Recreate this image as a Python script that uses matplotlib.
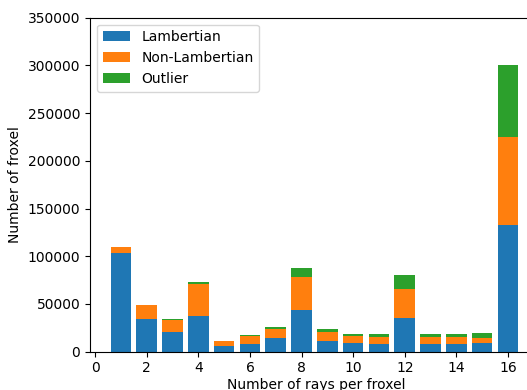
import matplotlib
matplotlib.use("Agg")
import matplotlib.pyplot as plt
import numpy as np

rays = [1, 2, 3, 4, 5, 6, 7, 8, 9, 10, 11, 12, 13, 14, 15, 16]
lambertian = [103000, 33900, 20200, 37700, 5600, 8400, 14000, 44000, 10800, 9000, 8300, 35300, 8000, 8000, 8700, 132400]
non_lambertian = [7000, 14600, 13300, 33300, 5600, 7600, 9800, 33900, 9400, 7000, 6700, 30000, 7700, 7000, 5600, 93000]
outlier = [0, 0, 1100, 2000, 300, 1800, 2400, 9800, 3600, 3000, 3200, 14700, 2800, 3100, 5300, 74700]

lam = np.array(lambertian)
non = np.array(non_lambertian)
out = np.array(outlier)

x_right = 17.3
fig = plt.figure(figsize=(5.27, 3.90), dpi=100)
ax = fig.add_axes([90/527, 1-351.7/390, (95.7 + x_right*25.77 - 90)/527, (351.7-17.7)/390])
ax.bar(rays, lam, width=0.8, color="#1f77b4", label="Lambertian")
ax.bar(rays, non, width=0.8, bottom=lam, color="#ff7f0e", label="Non-Lambertian")
ax.bar(rays, out, width=0.8, bottom=lam+non, color="#2ca02c", label="Outlier")
ax.set_xlim(-0.2, x_right)
ax.set_ylim(0, 350000)
ax.set_xticks([0, 2, 4, 6, 8, 10, 12, 14, 16])
ax.set_xlabel("Number of rays per froxel", labelpad=2)
ax.set_ylabel("Number of froxel")
ax.legend(loc="upper left")
fig.savefig("out.png", dpi=100)
